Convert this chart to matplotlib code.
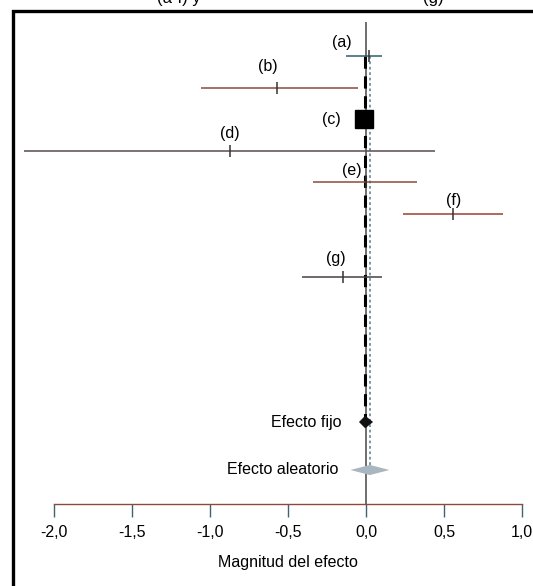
import numpy as np
import matplotlib
matplotlib.use("Agg")
import matplotlib.pyplot as plt
from matplotlib.patches import Rectangle, Polygon

plt.rcParams['font.family'] = ['Liberation Sans', 'DejaVu Sans']

# estudios: estimacion e intervalo de confianza
studies = ["(a)", "(b)", "(c)", "(d)", "(e)", "(f)", "(g)"]
est = [0.02, -0.57, -0.01, -0.87, 0.0, 0.56, -0.15]
lo = [-0.13, -1.06, -0.04, -2.19, -0.34, 0.24, -0.41]
hi = [0.10, -0.05, 0.02, 0.44, 0.33, 0.88, 0.10]
row = [0, 1, 2, 3, 4, 5, 7]
colors = ["#2f5f6c", "#8a4b3c", "#000000", "#5a4c4c", "#8a4b3c", "#9a3f2f", "#4a4040"]

fixed = (-0.005, -0.045, 0.045)
random_eff = (0.025, -0.10, 0.15)
ticks = [-2.0, -1.5, -1.0, -0.5, 0.0, 0.5, 1.0]

W, H = 533, 586
fig = plt.figure(figsize=(W / 100, H / 100), dpi=100)

# rows in pixel space: row r at 56 + 31.6 r
def px2row(p):
    return (p - 56) / 31.6

ax_top, ax_bot = 22, 504
ax = fig.add_axes([54 / W, 1 - ax_bot / H, (522 - 54) / W, (ax_bot - ax_top) / H])
ax.set_xlim(-2, 1)
ax.set_ylim(px2row(ax_bot), px2row(ax_top))
ax.set_facecolor("none")
for s in ["top", "left", "right"]:
    ax.spines[s].set_visible(False)
ax.spines["bottom"].set_color("#8a4b3c")
ax.spines["bottom"].set_linewidth(1.0)
ax.set_yticks([])
ax.set_xticks(ticks)
ax.set_xticklabels([f"{t:.1f}".replace(".", ",") for t in ticks], fontsize=11.5)
ax.tick_params(axis="x", direction="out", length=9, width=1.0, color="#3f6470", pad=6)
ax.set_xlabel("Magnitud del efecto", fontsize=11.5, labelpad=11)

# vertical line at zero
ax.axvline(0, color="#555555", lw=1.2, zorder=1)
# fixed (dashed black) and random (dotted) effect lines
ax.plot([fixed[0]] * 2, [row[0], px2row(422)], color="black", lw=2.2,
        dashes=(4, 2.5), zorder=2)
ax.plot([random_eff[0]] * 2, [row[0], px2row(470)], color="#6f8f9c", lw=1.3,
        dashes=(1.5, 1.5), zorder=2)

label_off = [(-27, 13), (-9, 21), None, (0, 17), (-14, 12), (0, 14), (-7, 19)]
for i, name in enumerate(studies):
    r = row[i]
    if name == "(c)":
        ax.plot(est[i], r, marker="s", ms=13.5, color="black", zorder=5)
        ax.annotate(name, (est[i], r), xytext=(-24, 0), textcoords="offset pixels",
                    ha="right", va="center", fontsize=11.5)
        continue
    ax.hlines(r, lo[i], hi[i], color=colors[i], lw=1.1, zorder=3, clip_on=False)
    ax.plot(est[i], r, marker="|", ms=9, mew=1.1, color="#333333", zorder=4,
            clip_on=False)
    dx, dy = label_off[i]
    ax.annotate(name, (est[i], r), xytext=(dx, dy), textcoords="offset pixels",
                ha="center", va="center", fontsize=11.5)

# diamonds
def diamond(eff, yrow, half_h, color):
    c, l, h = eff
    pts = [(l, yrow), (c, yrow - half_h), (h, yrow), (c, yrow + half_h)]
    ax.add_patch(Polygon(pts, closed=True, color=color, zorder=5, lw=0))

y_fixed = px2row(422)
y_rand = px2row(470)
diamond(fixed, y_fixed, 0.2, "#111111")
diamond(random_eff, y_rand, 0.16, "#a9b5bf")
ax.annotate("Efecto fijo", (fixed[1], y_fixed), xytext=(-17, 0),
            textcoords="offset pixels", ha="right", va="center", fontsize=11.5)
ax.annotate("Efecto aleatorio", (random_eff[1], y_rand), xytext=(-12, 0),
            textcoords="offset pixels", ha="right", va="center", fontsize=11.5)

# outer frame (crop of a larger figure)
fig.patches.append(Rectangle((13 / W, -0.1), 1.2, 1 - 11 / H + 0.1,
                             transform=fig.transFigure, fill=False,
                             edgecolor="black", lw=2.4))
fig.text(157 / W, 1 - 3 / H, "(a-f) y", fontsize=12, va="baseline")
fig.text(423 / W, 1 - 3 / H, "(g)", fontsize=12, va="baseline")

fig.savefig("out.png", dpi=100)
